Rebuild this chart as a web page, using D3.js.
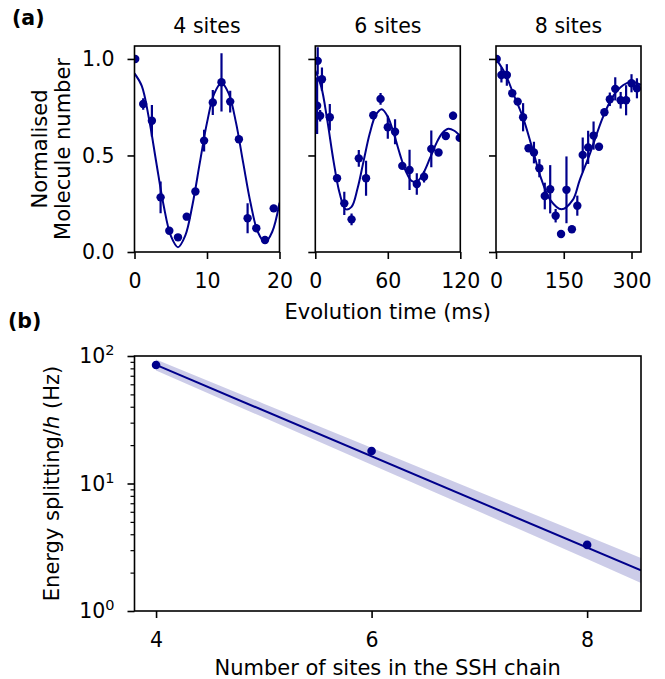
<!DOCTYPE html>
<html><head><meta charset="utf-8">
<script src="https://cdn.jsdelivr.net/npm/d3@7"></script>
<style>
body{margin:0;background:#fff}
svg text{font-family:"DejaVu Sans",sans-serif;fill:#000}
</style>
</head><body>
<svg id="c" width="665" height="679"></svg>
<script>
// ---------- DATA ----------
// (a) 4 sites
const t4   = [0.1,1.2,2.4,3.6,4.8,6.0,7.2,8.4,9.6,10.8,12.0,13.2,14.4,15.6,16.8,18.0,19.2];
const y4   = [1.0,0.767,0.68,0.283,0.11,0.076,0.183,0.313,0.577,0.774,0.879,0.779,0.584,0.175,0.123,0.062,0.226];
const e4   = [0,0.03,0.082,0.082,0.015,0.015,0.015,0.015,0.056,0.065,0.151,0.056,0.015,0.078,0.015,0.015,0.015];
const fit4t = [0,1,2,3,4,5,6,7,8,9,10,11,12,13,14,15,16,17,18,19,20];
const fit4y = [0.925,0.86,0.69,0.465,0.245,0.085,0.025,0.085,0.245,0.46,0.67,0.82,0.875,0.82,0.67,0.46,0.255,0.105,0.05,0.105,0.255];
// (a) 6 sites
const t6   = [2,5.5,1.5,4,12,18,24,30,36,42,48,54,60,66,72,78,84,90,96,102,108,114,119.5];
const y6   = [0.99,0.895,0.758,0.706,0.698,0.382,0.252,0.169,0.485,0.382,0.708,0.793,0.646,0.623,0.446,0.425,0.352,0.39,0.534,0.515,0.601,0.706,0.591];
const e6   = [0.07,0.06,0.147,0.03,0.069,0.015,0.06,0.03,0.043,0.09,0.02,0.03,0.06,0.065,0.015,0.104,0.056,0.03,0.095,0.015,0.015,0.02,0.015];
const fit6t = [0,5,10,15,20,25,30,35,40,45,50,55,60,65,70,75,80,85,90,95,100,105,110,115,120];
const fit6y = [0.94,0.854,0.679,0.475,0.308,0.222,0.234,0.330,0.472,0.612,0.709,0.740,0.701,0.613,0.507,0.417,0.367,0.369,0.415,0.487,0.561,0.615,0.638,0.628,0.60];
// (a) 8 sites
const t8   = [1.5,12,24,36,48,60,72,84,96,108,120,132,144,156,168,180,192,204,216,228,240,252,264,276,288,300,312];
const y8   = [1.0,0.917,0.917,0.822,0.779,0.698,0.537,0.515,0.434,0.290,0.325,0.188,0.093,0.322,0.118,0.240,0.503,0.542,0.603,0.545,0.724,0.791,0.845,0.786,0.786,0.874,0.848];
const e8   = [0,0.039,0.056,0.015,0.015,0.073,0.015,0.056,0.047,0.069,0.125,0.035,0,0.173,0.015,0.052,0.09,0.086,0.073,0.015,0.015,0.035,0.06,0.043,0.078,0.047,0.052];
const fit8t = [0,20,40,60,80,100,120,145,170,185,208,237,260,282,300,321];
const fit8y = [1.0,0.925,0.81,0.695,0.54,0.38,0.27,0.221,0.27,0.37,0.51,0.70,0.81,0.865,0.882,0.866];

const panelTitles = ["4 sites","6 sites","8 sites"];
const panelXTicks = [[0,10,20],[0,60,120],[0,150,300]];
const panelXMax   = [20,120,321];
const topYTicks   = [0,0.5,1.0];

// (b)
const sitesN     = [4,6,8];
const splitting  = [85,18,3.3];
const fitN       = [4,8.5];
const fitSplit   = [85.1,2.08];
const bandN      = [4,5,6,7,8,8.5];
const bandLo     = [77.1,32.9,14.0,6.0,2.56,1.66];
const bandHi     = [94.0,42.3,19.1,8.59,3.87,2.61];
const bottomXTicks = [4,6,8];
const bottomYTicks = [1,10,100];
const bottomYExp   = ["0","1","2"];
const bottomYMinor = [2,3,4,5,6,7,8,9,20,30,40,50,60,70,80,90];

// ---------- DRAW ----------
const C = "#00008b";
const svg = d3.select("#c");
const FS = 20.5;   // tick labels / titles
const LS = 21;     // axis labels

const topSeries = [
  {t:t4,y:y4,e:e4,ft:fit4t,fy:fit4y},
  {t:t6,y:y6,e:e6,ft:fit6t,fy:fit6y},
  {t:t8,y:y8,e:e8,ft:fit8t,fy:fit8y}
];
const lefts = [134.5,315.3,496];
const PW = 145, TOP = 46, BOT = 252;

function styleAxis(g){
  g.select(".domain").remove();
  g.selectAll(".tick line").attr("stroke","#000").attr("stroke-width",1.6);
  g.selectAll(".tick text").style("font-size",FS+"px").attr("fill","#000");
}

topSeries.forEach((s,i)=>{
  const x = d3.scaleLinear().domain([0,panelXMax[i]]).range([lefts[i],lefts[i]+PW]);
  const y = d3.scaleLinear().domain([0,1.067]).range([BOT,TOP]);
  const cid = "clip"+i;
  svg.append("clipPath").attr("id",cid).append("rect")
    .attr("x",lefts[i]).attr("y",TOP).attr("width",PW).attr("height",BOT-TOP);
  const g = svg.append("g").attr("clip-path",`url(#${cid})`);
  const fitData = s.ft.map((t,k)=>[t,s.fy[k]]);
  g.append("path").datum(fitData)
    .attr("d",d3.line().x(d=>x(d[0])).y(d=>y(d[1])).curve(d3.curveCatmullRom.alpha(0.5)))
    .attr("fill","none").attr("stroke",C).attr("stroke-width",2);
  const pts = s.t.map((t,k)=>({t:t,v:s.y[k],e:s.e[k]}));
  g.selectAll("line.err").data(pts).enter().append("line")
    .attr("x1",d=>x(d.t)).attr("x2",d=>x(d.t))
    .attr("y1",d=>y(d.v-d.e)).attr("y2",d=>y(d.v+d.e))
    .attr("stroke",C).attr("stroke-width",2.2);
  g.selectAll("circle").data(pts).enter().append("circle")
    .attr("cx",d=>x(d.t)).attr("cy",d=>y(d.v)).attr("r",4.2).attr("fill",C);

  const xa = svg.append("g").attr("transform",`translate(0,${BOT})`)
    .call(d3.axisBottom(x).tickValues(panelXTicks[i]).tickSize(7).tickPadding(14.5).tickFormat(d3.format("d")));
  styleAxis(xa);
  const ya = svg.append("g").attr("transform",`translate(${lefts[i]},0)`)
    .call(d3.axisLeft(y).tickValues(topYTicks).tickSize(7).tickPadding(13)
      .tickFormat(i===0 ? d3.format(".1f") : ()=>""));
  styleAxis(ya);
  svg.append("rect").attr("x",lefts[i]).attr("y",TOP).attr("width",PW).attr("height",BOT-TOP)
    .attr("fill","none").attr("stroke","#000").attr("stroke-width",1.6);
  svg.append("text").attr("x",lefts[i]+PW/2).attr("y",33).attr("text-anchor","middle")
    .style("font-size",FS+"px").text(panelTitles[i]);
});

// top labels
svg.append("text").attr("x",12).attr("y",25).style("font-size",FS+"px").style("font-weight","bold").text("(a)");
svg.append("text").attr("transform","translate(47,149) rotate(-90)").attr("text-anchor","middle")
  .style("font-size",LS+"px").text("Normalised");
svg.append("text").attr("transform","translate(70,149) rotate(-90)").attr("text-anchor","middle")
  .style("font-size",LS+"px").text("Molecule number");
svg.append("text").attr("x",387.7).attr("y",319).attr("text-anchor","middle")
  .style("font-size",LS+"px").text("Evolution time (ms)");

// bottom panel
const BL = 134.5, BR = 641, BT = 356, BB = 611;
const xb = d3.scaleLinear().domain([3.8,8.5]).range([BL,BR]);
const yb = d3.scaleLog().domain([1,100]).range([BB,BT]);
svg.append("clipPath").attr("id","clipb").append("rect")
  .attr("x",BL).attr("y",BT).attr("width",BR-BL).attr("height",BB-BT);
const gb = svg.append("g").attr("clip-path","url(#clipb)");
const band = bandN.map((n,k)=>({n:n,lo:bandLo[k],hi:bandHi[k]}));
gb.append("path").datum(band)
  .attr("d",d3.area().x(d=>xb(d.n)).y0(d=>yb(d.lo)).y1(d=>yb(d.hi)))
  .attr("fill",C).attr("fill-opacity",0.2);
gb.append("path").datum(fitN.map((n,k)=>[n,fitSplit[k]]))
  .attr("d",d3.line().x(d=>xb(d[0])).y(d=>yb(d[1])))
  .attr("fill","none").attr("stroke",C).attr("stroke-width",2);
gb.selectAll("circle").data(sitesN.map((n,k)=>[n,splitting[k]])).enter().append("circle")
  .attr("cx",d=>xb(d[0])).attr("cy",d=>yb(d[1])).attr("r",4.3).attr("fill",C);

const xba = svg.append("g").attr("transform",`translate(0,${BB})`)
  .call(d3.axisBottom(xb).tickValues(bottomXTicks).tickSize(7).tickPadding(14.5).tickFormat(d3.format("d")));
styleAxis(xba);
const yba = svg.append("g").attr("transform",`translate(${BL},0)`)
  .call(d3.axisLeft(yb).tickValues(bottomYTicks).tickSize(7).tickPadding(13).tickFormat(()=>""));
styleAxis(yba);
yba.selectAll(".tick text").each(function(d,k){
  const t = d3.select(this);
  t.text(null);
  t.append("tspan").text("10");
  t.append("tspan").attr("dy","-0.55em").style("font-size","14.5px").text(bottomYExp[k]);
});
const ybm = svg.append("g").attr("transform",`translate(${BL},0)`)
  .call(d3.axisLeft(yb).tickValues(bottomYMinor).tickSize(4).tickFormat(()=>""));
ybm.select(".domain").remove();
ybm.selectAll(".tick line").attr("stroke","#000").attr("stroke-width",1.2);

svg.append("rect").attr("x",BL).attr("y",BT).attr("width",BR-BL).attr("height",BB-BT)
  .attr("fill","none").attr("stroke","#000").attr("stroke-width",1.6);

svg.append("text").attr("x",8).attr("y",328).style("font-size",FS+"px").style("font-weight","bold").text("(b)");
const yl = svg.append("text").attr("transform","translate(59,483.5) rotate(-90)").attr("text-anchor","middle")
  .style("font-size",LS+"px");
yl.append("tspan").text("Energy splitting/");
yl.append("tspan").style("font-style","italic").text("h");
yl.append("tspan").text(" (Hz)");
svg.append("text").attr("x",387.7).attr("y",674.5).attr("text-anchor","middle")
  .style("font-size",LS+"px").text("Number of sites in the SSH chain");
</script>
</body></html>
